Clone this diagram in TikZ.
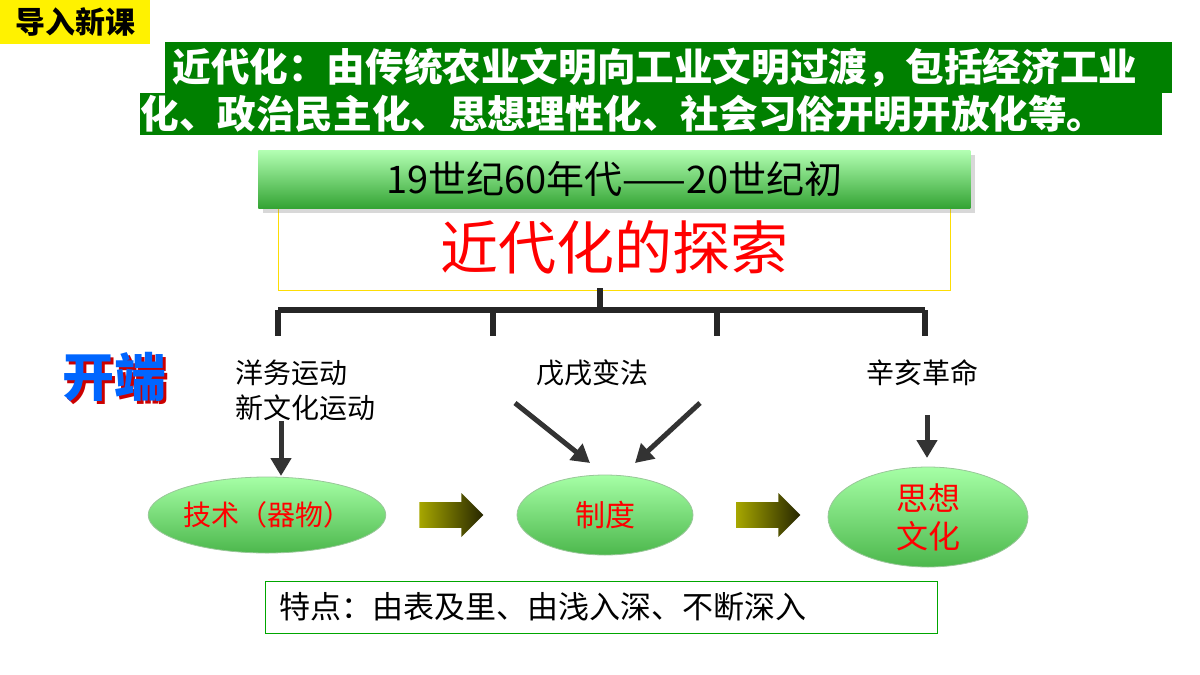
\documentclass[tikz,border=0pt]{standalone}
\usepackage{fontspec}
\newfontfamily\cjk{Noto Sans CJK SC}
\usetikzlibrary{shapes.geometric,shapes.arrows,arrows.meta,shadows}
\begin{document}
\begin{tikzpicture}[x=0.5pt,y=-0.5pt,font=\cjk,
  br/.style={line width=3pt,color=black!85},
  ar/.style={line width=2.5pt,color=black!80,-{Triangle[length=9pt,width=10pt]}},
  ell/.style={ellipse,inner sep=0pt,draw=green!45!black!40,top color=green!35!white,bottom color=green!60!black!70,text=red,font=\cjk\fontsize{15}{17}\selectfont,align=center},
  fat/.style={single arrow,minimum height=32pt,minimum width=22pt,single arrow head extend=3pt,left color=olive!70,right color=black!70!olive,draw=none,inner sep=4pt},
  lab/.style={font=\cjk\fontsize{14}{17}\selectfont,anchor=west}]
\useasboundingbox (0,0) rectangle (1200,675);
\fill[white] (0,0) rectangle (1200,675);
\node[fill=yellow,minimum width=75pt,minimum height=22pt,font=\cjk\bfseries\fontsize{15}{17}\selectfont,anchor=north west,inner sep=0] (yb) at (0,0) {导入新课};
\fill[green!50!black] (165,42) rectangle (1172,93);
\fill[green!50!black] (140,93) rectangle (1162,135);
\node[text=white,font=\cjk\bfseries\fontsize{19.3}{21}\selectfont,anchor=west,inner sep=0] (t1) at (172,68) {近代化：由传统农业文明向工业文明过渡，包括经济工业};
\node[text=white,font=\cjk\bfseries\fontsize{19.3}{21}\selectfont,anchor=west,inner sep=0] (t2) at (140,114) {化、政治民主化、思想理性化、社会习俗开明开放化等。};
\node[draw=yellow!80!orange,line width=0.6pt,minimum width=336pt,minimum height=42pt,anchor=north west,inner sep=0] (box) at (278,206) {};
\node[text=red,font=\cjk\fontsize{29}{32}\selectfont] (tt) at (614,247) {近代化的探索};
\node[top color=green!30!white,bottom color=green!55!black!80,drop shadow={opacity=0.3},minimum width=356pt,minimum height=29pt,anchor=north west,inner sep=0,font=\cjk\fontsize{19}{22}\selectfont] (gb) at (258,150) {19世纪60年代——20世纪初};
\coordinate (c0) at (600,288);
\coordinate (c1) at (600,310);
\coordinate (l) at (278,310);
\coordinate (r) at (925,310);
\draw[br] (c0) -- (c1);
\draw[br] (l) -- (r);
\foreach \x in {278,493,717,925} \draw[br] (\x,310) -- (\x,336);
\node[text=red!80!black,font=\cjk\bfseries\fontsize{26}{28}\selectfont] at (117,380) {开端};
\node[text=blue!60!cyan,font=\cjk\bfseries\fontsize{26}{28}\selectfont] (kd) at (114,377) {开端};
\node[lab] (a1) at (228,373) {洋务运动};
\node[lab] (a2) at (228,408) {新文化运动};
\node[font=\cjk\fontsize{14}{17}\selectfont] (b1) at (592,373) {戊戌变法};
\node[font=\cjk\fontsize{14}{17}\selectfont] (d1) at (922,373) {辛亥革命};
\node[ell,minimum width=98pt,minimum height=38pt,font=\cjk\fontsize{14}{17}\selectfont] (e1) at (267,515) {技术（器物）};
\node[ell,minimum width=88pt,minimum height=40pt] (e2) at (605,515) {制度};
\node[ell,minimum width=100pt,minimum height=50pt,font=\cjk\fontsize{16}{19}\selectfont] (e3) at (928,517) {思想\\文化};
\coordinate (p1) at (281,421);
\coordinate (p2) at (515,403);
\coordinate (p3) at (700,403);
\coordinate (p4) at (927,415);
\draw[ar] (p1) -- (281,476);
\draw[ar] (p2) -- (590,463);
\draw[ar] (p3) -- (635,463);
\draw[ar] (p4) -- (927,458);
\node[fat] (f1) at (445,515) {};
\node[fat] (f2) at (762,515) {};
\node[draw=green!65!black,line width=0.6pt,minimum width=336pt,minimum height=26pt,anchor=north west,inner sep=0] (bot) at (265,581) {};
\node[font=\cjk\fontsize{15.5}{17}\selectfont,anchor=west] (bt) at (272,607) {特点：由表及里、由浅入深、不断深入};
\end{tikzpicture}
\end{document}
